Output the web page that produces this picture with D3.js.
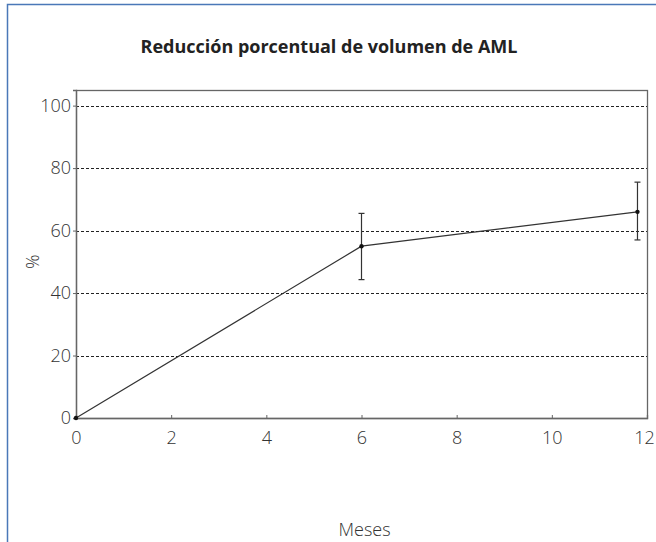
<!DOCTYPE html>
<html>
<head>
<meta charset="utf-8">
<script src="https://cdn.jsdelivr.net/npm/d3@7"></script>
<style>
  body { margin: 0; background: #fff; }
  svg { display: block; font-family: "Open Sans", sans-serif; }
</style>
</head>
<body>
<svg width="656" height="542"></svg>
<script>
var months = [0, 6, 11.8];
var reduction = [0, 55, 66];
var errLow = [0, 44.3, 57];
var errHigh = [0, 65.5, 75.5];
var xTicks = [0, 2, 4, 6, 8, 10, 12];
var yTicks = [0, 20, 40, 60, 80, 100];

var svg = d3.select("svg"),
    width = +svg.attr("width"),
    height = +svg.attr("height");

var margin = {left: 76, right: 9, top: 90, bottom: 124};

var x = d3.scaleLinear()
    .domain([0, 12])
    .range([margin.left, width - margin.right]);

var y = d3.scaleLinear()
    .domain([0, 105])
    .range([height - margin.bottom, margin.top]);

// outer frame (top + left only)
svg.append("path")
    .attr("d", "M7.5," + height + "V4.5H" + width)
    .attr("fill", "none")
    .attr("stroke", "#4a78b8")
    .attr("stroke-width", 1.5);

svg.append("text")
    .attr("x", 329)
    .attr("y", 53)
    .attr("text-anchor", "middle")
    .attr("font-size", 18)
    .attr("font-weight", "bold")
    .attr("fill", "#222")
    .text("Reducción porcentual de volumen de AML");

// dashed gridlines
svg.append("g")
  .selectAll("line")
  .data(yTicks.filter(function(d) { return d > 0; }))
  .enter().append("line")
    .attr("x1", x(0))
    .attr("x2", x(12))
    .attr("y1", function(d) { return Math.round(y(d)) + 0.5; })
    .attr("y2", function(d) { return Math.round(y(d)) + 0.5; })
    .attr("stroke", "#222")
    .attr("stroke-dasharray", "3,2");

// plot box
svg.append("rect")
    .attr("x", x(0) + 0.5)
    .attr("y", y(105) + 0.5)
    .attr("width", x(12) - x(0))
    .attr("height", y(0) - y(105))
    .attr("fill", "none")
    .attr("stroke", "#666")
    .attr("stroke-width", 1.3);

var xAxis = svg.append("g")
    .attr("transform", "translate(0," + y(0) + ")")
    .call(d3.axisBottom(x).tickValues(xTicks).tickSize(-3).tickPadding(11));

var yAxis = svg.append("g")
    .attr("transform", "translate(" + x(0) + ",0)")
    .call(d3.axisLeft(y).tickValues(yTicks).tickSize(3).tickPadding(2));

[xAxis, yAxis].forEach(function(a) {
  a.select(".domain").attr("stroke", "#666").attr("stroke-width", 1.3);
  a.selectAll(".tick line").attr("stroke", "#666");
  a.selectAll(".tick text")
    .attr("font-family", "Open Sans, sans-serif")
    .attr("font-size", 18)
    .attr("font-weight", 300)
    .attr("fill", "#333");
});
xAxis.selectAll(".tick text").attr("dy", "0.85em");
// keep the last label inside the page
xAxis.selectAll(".tick text").filter(function(d) { return d === 12; }).attr("x", -3);

svg.append("text")
    .attr("transform", "translate(39," + y(50) + ") rotate(-90)")
    .attr("text-anchor", "middle")
    .attr("font-size", 18)
    .attr("font-weight", 300)
    .attr("fill", "#333")
    .text("%");

svg.append("text")
    .attr("x", x(6) + 3)
    .attr("y", 536)
    .attr("text-anchor", "middle")
    .attr("font-size", 18)
    .attr("font-weight", 300)
    .attr("fill", "#333")
    .text("Meses");

var pts = months.map(function(m, i) {
  return {m: m, v: reduction[i], lo: errLow[i], hi: errHigh[i]};
});

svg.append("path")
    .datum(pts)
    .attr("fill", "none")
    .attr("stroke", "#333")
    .attr("stroke-width", 1.2)
    .attr("d", d3.line().x(function(d) { return x(d.m); }).y(function(d) { return y(d.v); }));

var eb = svg.append("g")
  .selectAll("g")
  .data(pts.filter(function(d) { return d.hi > d.lo; }))
  .enter().append("g")
    .attr("stroke", "#333")
    .attr("stroke-width", 1.2);

eb.append("line")
    .attr("x1", function(d) { return x(d.m); })
    .attr("x2", function(d) { return x(d.m); })
    .attr("y1", function(d) { return y(d.lo); })
    .attr("y2", function(d) { return y(d.hi); });

eb.selectAll(".cap")
  .data(function(d) { return [d.lo, d.hi].map(function(v) { return {m: d.m, v: v}; }); })
  .enter().append("line")
    .attr("x1", function(d) { return x(d.m) - 3; })
    .attr("x2", function(d) { return x(d.m) + 3; })
    .attr("y1", function(d) { return y(d.v); })
    .attr("y2", function(d) { return y(d.v); });

svg.append("g")
  .selectAll("circle")
  .data(pts)
  .enter().append("circle")
    .attr("cx", function(d) { return x(d.m); })
    .attr("cy", function(d) { return y(d.v); })
    .attr("r", 2.2)
    .attr("fill", "#111");
</script>
</body>
</html>
